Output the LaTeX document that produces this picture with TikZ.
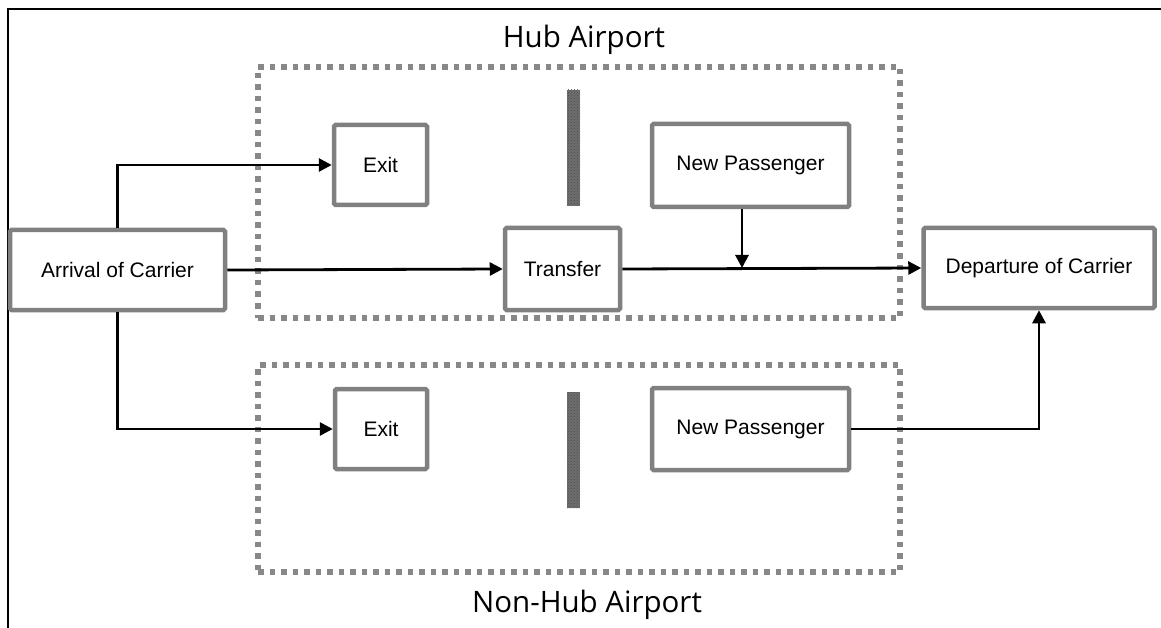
\documentclass[tikz,border=0pt]{standalone}
\usepackage{fontspec}
\setmainfont{Liberation Sans}
\newfontfamily\titlefont{Open Sans}
\usetikzlibrary{arrows.meta,patterns}
\definecolor{boxgray}{RGB}{128,128,128}
\definecolor{dotgray}{RGB}{136,136,136}
\definecolor{bargray}{RGB}{110,110,110}
\begin{document}
\begin{tikzpicture}[x=1pt,y=-1pt,
  stepbox/.style={draw=boxgray, line width=4.5pt, rounded corners=1.5pt, fill=white, inner sep=0pt, font=\fontsize{21}{24}\selectfont},
  area/.style={draw=dotgray, line width=5.5pt, dash pattern=on 5.5pt off 6pt, inner sep=0pt},
  bar/.style={fill=bargray, draw=none, inner sep=0pt, minimum width=13pt, minimum height=116pt, postaction={pattern=crosshatch dots, pattern color=black!70}},
  flow/.style={line width=2.8pt, -{Triangle[length=13pt,width=13pt]}},
  title/.style={font=\titlefont\fontsize{29.5}{34}\selectfont, inner sep=0pt}]
\useasboundingbox (0,0) rectangle (1161,628);
% frame
\draw[line width=2.2pt] (8,628) -- (8,9) -- (1161,9);
% airport areas
\node[area, minimum width=642pt, minimum height=251pt] (hub) at (579,192.5) {};
\node[area, minimum width=642pt, minimum height=207pt] (nonhub) at (579,468.5) {};
\node[title] (hubt) at (584,40) {Hub Airport};
\node[title] (nonhubt) at (587,605) {Non-Hub Airport};
% barriers
\node[bar] (bar1) at (573.5,148) {};
\node[bar] (bar2) at (573.5,450) {};
% boxes
\node[stepbox, minimum width=215pt, minimum height=80pt] (arr) at (117.5,270) {Arrival of Carrier};
\node[stepbox, minimum width=93pt, minimum height=80pt] (exit1) at (380.5,165) {Exit};
\node[stepbox, minimum width=197pt, minimum height=83pt] (np1) at (750.5,165.5) {New Passenger};
\node[stepbox, minimum width=115pt, minimum height=82pt] (tr) at (562.5,269) {Transfer};
\node[stepbox, minimum width=231pt, minimum height=80pt] (dep) at (1039,268) {Departure of Carrier};
\node[stepbox, minimum width=92pt, minimum height=80pt] (exit2) at (381,429) {Exit};
\node[stepbox, minimum width=197pt, minimum height=82pt] (np2) at (750.5,429) {New Passenger};
% connectors
\coordinate (j) at (742,268);
\draw[flow] (arr.north) |- (exit1.west);
\draw[flow] (arr.east) -- (tr.west);
\draw[flow] (tr.east) -- (dep.west);
\draw[flow] (j |- np1.south) -- (j);
\draw[flow] (arr.south) |- (exit2.west);
\draw[flow] (np2.east) -| (dep.south);
\end{tikzpicture}
\end{document}
